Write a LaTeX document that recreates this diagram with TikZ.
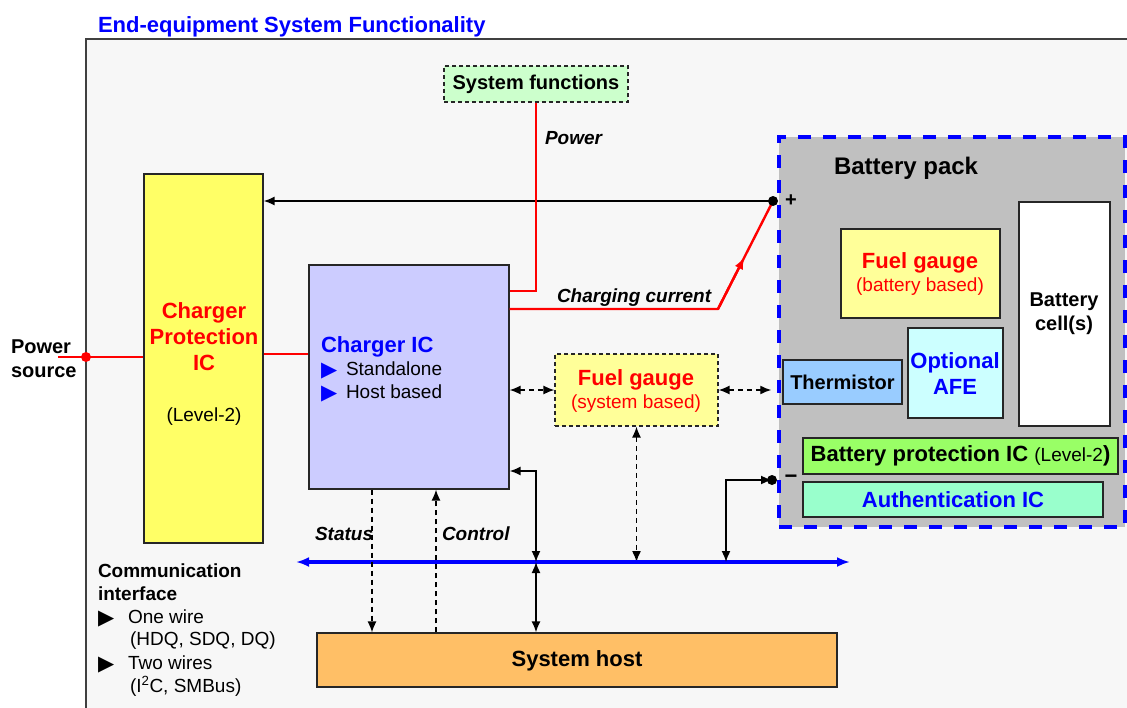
\documentclass[tikz,border=0pt]{standalone}
\usepackage{fontspec}
\setmainfont{Liberation Sans}
\newfontfamily\djv{DejaVu Sans}
\usetikzlibrary{arrows.meta,fit,calc}
\definecolor{framebg}{HTML}{F7F7F7}
\definecolor{cprotfill}{HTML}{FFFF66}
\definecolor{cicfill}{HTML}{CCCCFF}
\definecolor{fgfill}{HTML}{FFFF99}
\definecolor{sysfill}{HTML}{CCFFCC}
\definecolor{thermfill}{HTML}{99CCFF}
\definecolor{afefill}{HTML}{CCFFFF}
\definecolor{bprotfill}{HTML}{99FF66}
\definecolor{authfill}{HTML}{99FFCC}
\definecolor{packfill}{HTML}{C0C0C0}
\definecolor{hostfill}{HTML}{FFBF66}
\newcommand\fsz[2]{\fontsize{#1}{#2}\selectfont}
\begin{document}
\begin{tikzpicture}[x=1pt,y=-1pt,
  bx/.style={draw=black!85, line width=1.2pt, inner sep=0pt},
  dbx/.style={bx, dash pattern=on 4pt off 3pt},
  wire/.style={line width=1.6pt, black},
  rwire/.style={line width=2.4pt, red},
  dwire/.style={wire, line width=1.4pt, dash pattern=on 5pt off 4pt},
  >={Latex[length=11pt,width=9pt]},
  txt/.style={inner sep=0pt, outer sep=0pt},
  bigb/.style={txt, font=\bfseries\fsz{22}{26}},
  midb/.style={txt, font=\bfseries\fsz{20}{24}},
  labi/.style={txt, font=\bfseries\itshape\fsz{19}{22}},
  small/.style={txt, font=\fsz{19}{23}},
  tri/.style={txt, font=\djv\fsz{21}{23}}
]
\useasboundingbox (0,0) rectangle (1127,707);
\fill[white] (0,0) rectangle (1127,707);
% frame
\fill[framebg] (86,39) rectangle (1130,710);
\draw[line width=1.5pt, black!75] (1130,39) -- (86,39) -- (86,710);
\node[txt, anchor=base west, font=\bfseries\fsz{22}{26}, text=blue] (title) at (98,32) {End-equipment System Functionality};

% boxes
\node[dbx, fill=sysfill, fit={(444,66) (628,102)}] (sysfun) {};
\node[bigb, font=\bfseries\fsz{20}{24}] (sysfunT) at (sysfun.center) {System functions};

\node[bx, fill=cprotfill, fit={(144,174) (263,543)}] (cprot) {};
\node[bigb, text=red, align=center] (cprotT) at (204,337) {Charger\\Protection\\IC};
\node[small] (cprotL) at (204,417) {(Level-2)};

\node[bx, fill=cicfill, fit={(309,265) (509,489)}] (cic) {};
\node[bigb, text=blue, anchor=base west] (cicT) at (321,352) {Charger IC};
\node[tri, text=blue, anchor=base west] (cicA) at (321,376) {▶};
\node[small, anchor=base west] (cicS) at (346,375) {Standalone};
\node[tri, text=blue, anchor=base west] (cicB) at (321,399) {▶};
\node[small, anchor=base west] (cicH) at (346,398) {Host based};

\node[dbx, fill=fgfill, fit={(555,354) (718,426)}] (fgs) {};
\node[bigb, text=red] (fgsT) at (636,380) {Fuel gauge};
\node[small, text=red] (fgsS) at (636,404) {(system based)};

\node[bx, draw=blue, line width=3.5pt, dash pattern=on 13pt off 12pt, fill=packfill, fit={(779,137) (1125,527)}] (pack) {};
\node[txt, font=\bfseries\fsz{24}{28}, anchor=west] (packT) at (834,168) {Battery pack};

\node[bx, fill=fgfill, fit={(841,229) (1000,318)}] (fgb) {};
\node[bigb, text=red] (fgbT) at (920,263) {Fuel gauge};
\node[small, text=red] (fgbS) at (920,287) {(battery based)};

\node[bx, fill=white, fit={(1019,202) (1110,426)}] (cell) {};
\node[midb, align=center] (cellT) at (1064,314) {Battery\\cell(s)};

\node[bx, fill=thermfill, fit={(783,360) (902,404)}] (therm) {};
\node[midb] (thermT) at (therm.center) {Thermistor};

\node[bx, fill=afefill, fit={(908,328) (1003,418)}] (afe) {};
\node[bigb, text=blue, align=center] (afeT) at (955,374) {Optional\\AFE};

\node[bx, fill=bprotfill, fit={(803,438) (1118,474)}] (bprot) {};
\node[bigb] (bprotT) at (960.5,456) {Battery protection IC {\mdseries\fsz{19}{22}(Level-2})};

\node[bx, fill=authfill, fit={(803,482) (1103,517)}] (auth) {};
\node[bigb, text=blue] (authT) at (953,500) {Authentication IC};

\node[bx, fill=hostfill, fit={(317,633) (837,687)}] (host) {};
\node[bigb] (hostT) at (577,661) {System host};

% helper coordinates
\coordinate (psrc) at (58,357);
\coordinate (pdot) at (86,357);
\coordinate (y354) at (0,354);
\coordinate (plus) at (773,201);
\coordinate (ych) at (0,309);
\coordinate (chk) at (718,309);
\coordinate (ypow) at (0,291);
\coordinate (minus) at (772,480);
\coordinate (busL) at (296,562);
\coordinate (busR) at (850,562);
\coordinate (jb) at (536,562);
\coordinate (jm) at (726,562);
\coordinate (y471) at (0,471);
\coordinate (xs) at (372,0);
\coordinate (xc) at (436,0);

% power source
\node[txt, font=\bfseries\fsz{20}{24}, align=left, anchor=west] (psrcT) at (11,359) {Power\\source};
\draw[rwire] (psrc) -- (cprot.west |- psrc);
\fill[red] (pdot) circle (5);
\draw[rwire] (cprot.east |- y354) -- (cic.west |- y354);

% battery + line
\draw[wire, ->] (plus) -- (cprot.east |- plus);
\node[txt, font=\bfseries\fsz{20}{24}] (plusT) at (791,201) {+};

% charging current
\draw[rwire, line join=round] (cic.east |- ych) -- (chk) -- (plus);
\draw[rwire, -{Latex[length=12pt,width=9pt]}] (chk) -- ($(chk)!0.48!(plus)$);
\fill[black] (plus) circle (5);
\node[labi, anchor=west] (chT) at (557,298) {Charging current};

% power to system functions
\draw[rwire] (sysfun.south) -- (sysfun.south |- ypow) -- (cic.east |- ypow);
\node[labi, anchor=west] (powT) at (545,138) {Power};

% dashed links
\draw[dwire, <->] (cic.east |- fgs.west) -- (fgs.west);
\draw[dwire, <->] (fgs.east) -- ([xshift=-6pt]pack.west |- fgs.east);
\draw[dwire, <->] (fgs.south) -- (fgs.south |- busL);

% bus
\draw[blue, line width=3.2pt, {Latex[length=13pt,width=10pt]}-{Latex[length=13pt,width=10pt]}] (busL) -- (busR);

% solid links
\draw[wire, <->] (cic.east |- y471) -| (jb);
\draw[wire, <->] (jb) -- (jb |- host.north);
\draw[wire, <->] (minus) -| (jm);
\fill[black] (minus) circle (5);
\node[txt, font=\bfseries\fsz{22}{26}] (minusT) at (791,479) {−};

% status / control
\draw[dwire, ->] (cic.south -| xs) -- (host.north -| xs);
\draw[dwire, ->] (host.north -| xc) -- (cic.south -| xc);
\node[labi, anchor=west] (statT) at (315,534) {Status};
\node[labi, anchor=west] (ctrlT) at (442,534) {Control};

% communication interface
\node[txt, font=\bfseries\fsz{19}{23}, anchor=base west] (comA) at (98,577) {Communication};
\node[txt, font=\bfseries\fsz{19}{23}, anchor=base west] (comB) at (98,600) {interface};
\node[tri, anchor=base west] (comC) at (98,624) {▶};
\node[small, anchor=base west] (comD) at (128,623) {One wire};
\node[small, anchor=base west] (comE) at (130,645) {(HDQ, SDQ, DQ)};
\node[tri, anchor=base west] (comF) at (98,670) {▶};
\node[small, anchor=base west] (comG) at (128,669) {Two wires};
\node[small, anchor=base west] (comH) at (130,692) {(I\textsuperscript{2}C, SMBus)};
\end{tikzpicture}
\end{document}
